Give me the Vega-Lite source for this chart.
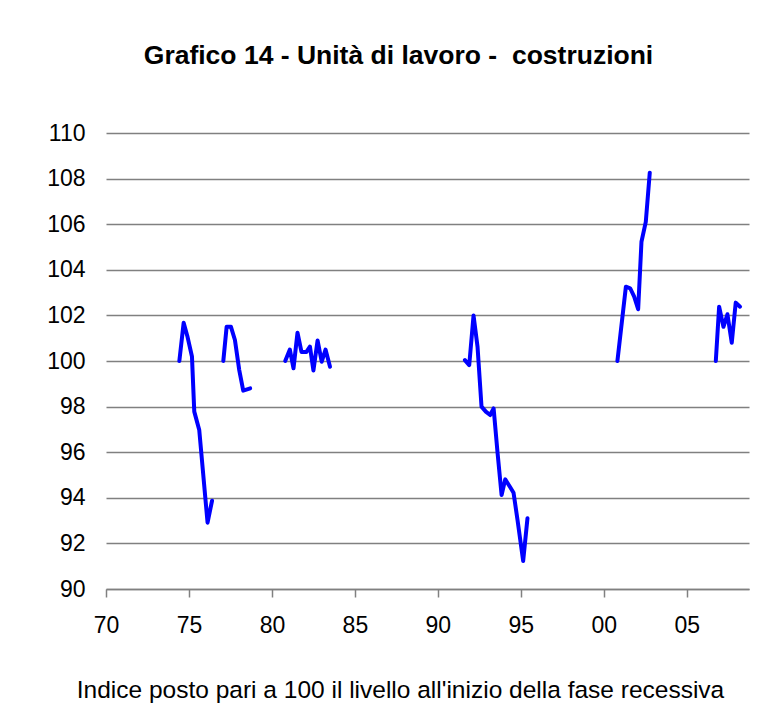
{
  "$schema": "https://vega.github.io/schema/vega-lite/v6.json",
  "width": 643,
  "height": 456,
  "autosize": {"type": "none"},
  "padding": {"left": 106, "top": 133, "right": 20, "bottom": 126},
  "background": "white",
  "title": {
    "text": "Grafico 14 - Unità di lavoro - \u00a0costruzioni",
    "font": "Liberation Sans",
    "fontSize": 26.5,
    "fontWeight": "bold",
    "color": "black",
    "anchor": "middle",
    "dx": -29,
    "offset": 53
  },
  "data": {
    "values": [
      {"fase": "1974", "anno": 1974.42, "valore": 100.0},
      {"fase": "1974", "anno": 1974.68, "valore": 101.68},
      {"fase": "1974", "anno": 1974.90, "valore": 101.1},
      {"fase": "1974", "anno": 1975.18, "valore": 100.2},
      {"fase": "1974", "anno": 1975.32, "valore": 97.78},
      {"fase": "1974", "anno": 1975.62, "valore": 96.97},
      {"fase": "1974", "anno": 1976.12, "valore": 92.91},
      {"fase": "1974", "anno": 1976.39, "valore": 93.87},
      {"fase": "1977", "anno": 1977.07, "valore": 100.0},
      {"fase": "1977", "anno": 1977.27, "valore": 101.5},
      {"fase": "1977", "anno": 1977.53, "valore": 101.5},
      {"fase": "1977", "anno": 1977.77, "valore": 100.92},
      {"fase": "1977", "anno": 1978.03, "valore": 99.6},
      {"fase": "1977", "anno": 1978.27, "valore": 98.7},
      {"fase": "1977", "anno": 1978.69, "valore": 98.8},
      {"fase": "1981", "anno": 1980.80, "valore": 100.0},
      {"fase": "1981", "anno": 1981.08, "valore": 100.5},
      {"fase": "1981", "anno": 1981.30, "valore": 99.68},
      {"fase": "1981", "anno": 1981.54, "valore": 101.24},
      {"fase": "1981", "anno": 1981.78, "valore": 100.4},
      {"fase": "1981", "anno": 1982.08, "valore": 100.4},
      {"fase": "1981", "anno": 1982.29, "valore": 100.63},
      {"fase": "1981", "anno": 1982.50, "valore": 99.58},
      {"fase": "1981", "anno": 1982.75, "valore": 100.9},
      {"fase": "1981", "anno": 1983.00, "valore": 99.97},
      {"fase": "1981", "anno": 1983.23, "valore": 100.5},
      {"fase": "1981", "anno": 1983.50, "valore": 99.75},
      {"fase": "1992", "anno": 1991.63, "valore": 100.04},
      {"fase": "1992", "anno": 1991.89, "valore": 99.82},
      {"fase": "1992", "anno": 1992.15, "valore": 102.0},
      {"fase": "1992", "anno": 1992.39, "valore": 100.63},
      {"fase": "1992", "anno": 1992.63, "valore": 98.0},
      {"fase": "1992", "anno": 1992.89, "valore": 97.78},
      {"fase": "1992", "anno": 1993.15, "valore": 97.63},
      {"fase": "1992", "anno": 1993.36, "valore": 97.92},
      {"fase": "1992", "anno": 1993.60, "valore": 95.95},
      {"fase": "1992", "anno": 1993.84, "valore": 94.12},
      {"fase": "1992", "anno": 1994.06, "valore": 94.81},
      {"fase": "1992", "anno": 1994.36, "valore": 94.46},
      {"fase": "1992", "anno": 1994.56, "valore": 94.22},
      {"fase": "1992", "anno": 1994.80, "valore": 93.03},
      {"fase": "1992", "anno": 1995.14, "valore": 91.23},
      {"fase": "1992", "anno": 1995.40, "valore": 93.1},
      {"fase": "2001", "anno": 2000.82, "valore": 100.0},
      {"fase": "2001", "anno": 2001.33, "valore": 103.26},
      {"fase": "2001", "anno": 2001.59, "valore": 103.19},
      {"fase": "2001", "anno": 2001.83, "valore": 102.82},
      {"fase": "2001", "anno": 2002.07, "valore": 102.27},
      {"fase": "2001", "anno": 2002.27, "valore": 105.23},
      {"fase": "2001", "anno": 2002.53, "valore": 106.1},
      {"fase": "2001", "anno": 2002.77, "valore": 108.26},
      {"fase": "2007", "anno": 2006.75, "valore": 100.0},
      {"fase": "2007", "anno": 2006.95, "valore": 102.38},
      {"fase": "2007", "anno": 2007.21, "valore": 101.5},
      {"fase": "2007", "anno": 2007.45, "valore": 102.05},
      {"fase": "2007", "anno": 2007.71, "valore": 100.8},
      {"fase": "2007", "anno": 2007.95, "valore": 102.56},
      {"fase": "2007", "anno": 2008.21, "valore": 102.38}
    ]
  },
  "mark": {"type": "line", "color": "#0000FF", "strokeWidth": 4, "strokeCap": "round", "strokeJoin": "round"},
  "encoding": {
    "detail": {"field": "fase", "type": "nominal"},
    "x": {
      "field": "anno",
      "type": "quantitative",
      "scale": {"domain": [1970, 2008.75], "nice": false, "zero": false},
      "axis": {
        "values": [1970, 1975, 1980, 1985, 1990, 1995, 2000, 2005],
        "format": "d",
        "labelExpr": "substring(datum.label, 2)",
        "labelFlush": false,
        "labelOverlap": false,
        "grid": false,
        "domain": true,
        "domainColor": "#808080",
        "domainWidth": 1.5,
        "ticks": true,
        "tickColor": "#808080",
        "tickWidth": 1.5,
        "tickSize": 8,
        "labelFont": "Liberation Sans",
        "labelFontSize": 23,
        "labelColor": "black",
        "labelPadding": 17,
        "title": "Indice posto pari a 100 il livello all'inizio della fase recessiva",
        "titleFont": "Liberation Sans",
        "titleFontSize": 24.5,
        "titleFontWeight": "normal",
        "titleColor": "black",
        "titleX": 294,
        "titleY": 101,
        "titleAnchor": "middle",
        "titleAlign": "center",
        "titleBaseline": "middle"
      }
    },
    "y": {
      "field": "valore",
      "type": "quantitative",
      "scale": {"domain": [90, 110], "nice": false, "zero": false},
      "axis": {
        "values": [90, 92, 94, 96, 98, 100, 102, 104, 106, 108, 110],
        "labelFlush": false,
        "labelOverlap": false,
        "grid": true,
        "gridColor": "#808080",
        "gridWidth": 1.5,
        "domain": false,
        "ticks": false,
        "labelFont": "Liberation Sans",
        "labelFontSize": 23,
        "labelColor": "black",
        "labelPadding": 21,
        "title": null
      }
    }
  },
  "config": {"view": {"stroke": null}}
}
